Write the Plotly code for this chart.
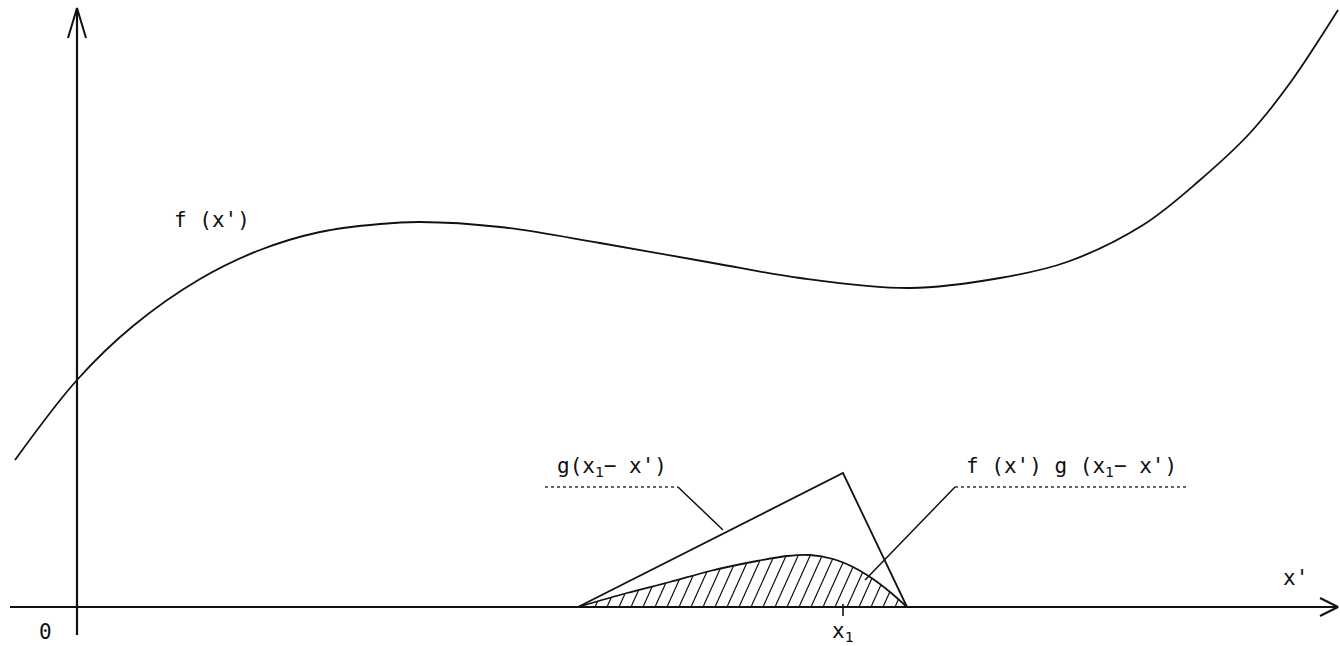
import numpy as np
import plotly.graph_objects as go

# f(x') sampled along the x' axis (origin at the axes crossing)
f_x = [-62, 0, 56, 123, 183, 243, 303, 343, 423, 523, 636, 723, 833, 923, 990,
       1066, 1123, 1173, 1213, 1261]
f_y = [147, 227, 281, 328, 357, 375, 383, 385, 380, 364, 344, 329, 319, 329, 345,
       382, 427, 474, 524, 597]

# triangular kernel g(x1 - x')
x1 = 766
g_x = [501, x1, 830]
g_y = [0, 134, 0]

# product f(x') g(x1 - x')
fg_x = [501, 550, 593, 633, 680, 710, 733, 756, 776, 796, 813, 830]
fg_y = [0, 14, 25, 36, 46, 51, 52, 48, 40, 28, 15, 0]

# axes extents
x_min, x_max = -67, 1261
y_min, y_max = -28, 599

# label leaders: underline span and pointer endpoint
g_label_span = [468, 601]
g_label_y = 120
g_pointer = (646, 77)
fg_label_span = [878, 1110]
fg_label_y = 120
fg_pointer = (788, 27)

# hatch spacing along x' and horizontal run per unit of height
hatch_step = 12
hatch_lean = 0.45

BLACK = "#111111"
FONT = dict(family="DejaVu Sans Mono", size=21, color=BLACK)

fig = go.Figure()


def line(xs, ys, width=1.8, dash=None, color=BLACK, shape="linear", smoothing=1.0):
    fig.add_trace(go.Scatter(x=xs, y=ys, mode="lines",
                             line=dict(color=color, width=width, dash=dash,
                                       shape=shape, smoothing=smoothing),
                             hoverinfo="skip", connectgaps=False))


# hatching under the product curve: slanted strokes clipped at the curve
hx, hy = [], []
t = np.arange(0, 80, 0.25)
for x0 in np.arange(fg_x[0] + 5, fg_x[-1], hatch_step):
    xs = x0 + hatch_lean * t
    top = np.interp(xs, fg_x, fg_y, left=0, right=0)
    hit = np.nonzero(t >= top)[0]
    if len(hit) == 0 or hit[0] == 0:
        continue
    th = t[hit[0]]
    hx += [x0, x0 + hatch_lean * th, None]
    hy += [0, th, None]
line(hx, hy, width=1.2)

# axes
line([x_min, x_max], [0, 0], width=2.2)
line([0, 0], [y_min, y_max], width=2.2)
# arrow heads
ah = 18
line([x_max - ah, x_max, x_max - ah], [9, 0, -9], width=2)
line([-9, 0, 9], [y_max - 30, y_max, y_max - 30], width=2)
# x1 tick
line([x1, x1], [3, -9], width=1.6)

# product curve outline
line(fg_x, fg_y, width=1.8, shape="spline", smoothing=0.8)

# f(x')
line(f_x, f_y, width=1.8, shape="spline", smoothing=1.0)

# g(x1 - x')
line(g_x, g_y, width=1.8)

# label underlines and pointers
line(g_label_span, [g_label_y, g_label_y], width=1.6, dash="dot", color="#333333")
line([g_label_span[1], g_pointer[0]], [g_label_y, g_pointer[1]], width=1.5)
line(fg_label_span, [fg_label_y, fg_label_y], width=1.6, dash="dot", color="#333333")
line([fg_label_span[0], fg_pointer[0]], [fg_label_y, fg_pointer[1]], width=1.5)

labels = [
    ("f (x')", 135, 387),
    ("g(x<sub>1</sub>− x')", sum(g_label_span) / 2, g_label_y + 20),
    ("f (x') g (x<sub>1</sub>− x')", sum(fg_label_span) / 2, fg_label_y + 20),
    ("0", -32, -25),
    ("x<sub>1</sub>", x1, -25),
    ("x'", 1218, 29),
]
for txt, tx, ty in labels:
    fig.add_annotation(x=tx, y=ty, text=txt, showarrow=False, font=FONT,
                       xanchor="center", yanchor="middle")

fig.update_layout(
    width=1340, height=646, margin=dict(l=0, r=0, t=0, b=0),
    paper_bgcolor="white", plot_bgcolor="white", showlegend=False,
    xaxis=dict(range=[-77, 1263], visible=False, fixedrange=True),
    yaxis=dict(range=[-39, 607], visible=False, fixedrange=True),
)

fig.write_html("out.html")
